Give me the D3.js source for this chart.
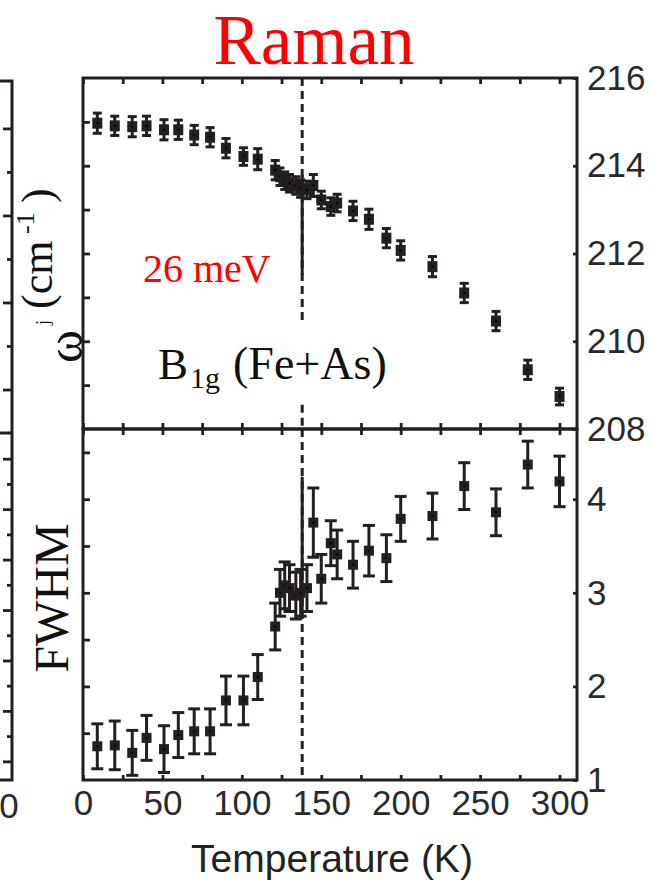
<!DOCTYPE html>
<html>
<head>
<meta charset="utf-8">
<script src="https://cdn.jsdelivr.net/npm/d3@7"></script>
<style>
  html, body { margin: 0; padding: 0; background: #fff; }
  svg { display: block; }
</style>
</head>
<body>
<svg id="chart" width="654" height="880"></svg>
<script>
// ---------------- data ----------------
const temps = [9, 20, 31, 40, 51, 60, 70, 80, 90, 101, 110, 121, 124, 127, 130, 134, 137, 141, 145, 150, 156, 160, 170, 180, 191, 200, 220, 240, 260, 280, 300];
const omega = [214.97, 214.91, 214.89, 214.91, 214.82, 214.82, 214.70, 214.65, 214.40, 214.21, 214.15, 213.90, 213.75, 213.66, 213.60, 213.55, 213.48, 213.45, 213.55, 213.22, 213.07, 213.15, 212.97, 212.78, 212.35, 212.07, 211.70, 211.10, 210.46, 209.35, 208.74];
const omegaErr = [0.23, 0.22, 0.23, 0.22, 0.23, 0.22, 0.22, 0.22, 0.22, 0.2, 0.24, 0.22, 0.2, 0.2, 0.2, 0.2, 0.2, 0.2, 0.25, 0.2, 0.2, 0.2, 0.22, 0.23, 0.22, 0.22, 0.23, 0.22, 0.22, 0.22, 0.19];
const fwhm = [1.36, 1.37, 1.29, 1.45, 1.33, 1.48, 1.52, 1.52, 1.85, 1.85, 2.10, 2.64, 3.00, 3.08, 3.05, 2.97, 3.00, 3.05, 3.75, 3.15, 3.53, 3.41, 3.30, 3.45, 3.37, 3.79, 3.82, 4.14, 3.86, 4.37, 4.19];
const fwhmErr = [0.24, 0.26, 0.24, 0.24, 0.25, 0.24, 0.24, 0.24, 0.26, 0.26, 0.24, 0.25, 0.25, 0.25, 0.25, 0.25, 0.25, 0.25, 0.37, 0.26, 0.24, 0.26, 0.25, 0.27, 0.25, 0.24, 0.245, 0.25, 0.25, 0.25, 0.27];

const xTicks = [0, 25, 50, 75, 100, 125, 150, 175, 200, 225, 250, 275, 300];
const xLabels = [0, 50, 100, 150, 200, 250, 300];
const omegaMinorTicks = [209, 210, 211, 212, 213, 214, 215];
const omegaLabels = [208, 210, 212, 214, 216];
const fwhmMinorTicks = [1.5, 2, 2.5, 3, 3.5, 4, 4.5];
const fwhmLabels = [1, 2, 3, 4];
const transitionT = 138;

// ---------------- layout ----------------
const ink = "#231f20";
const X0 = 83, X1 = 577, Ytop = 78, Ymid = 429, Ybot = 780;
const svg = d3.select("#chart");

const x = d3.scaleLinear().domain([0, 311]).range([X0, X1]);
const yTop = d3.scaleLinear().domain([208, 216]).range([Ymid, Ytop]);
const yBot = d3.scaleLinear().domain([1, 4.75]).range([Ybot, Ymid]);

function styleAxis(g) {
  g.select(".domain").remove();
  g.selectAll(".tick line").attr("stroke", ink).attr("stroke-width", 2.8);
  g.selectAll(".tick text").attr("fill", "#2a2a2a")
    .attr("font-family", "Liberation Sans, Arial, sans-serif").attr("font-size", 35);
}

// ---------------- partial neighbouring panel at far left ----------------
const leftTopScale = d3.scaleLinear().domain([0, 8.09]).range([433, 81]);
const leftBotScale = d3.scaleLinear().domain([0, 6.88]).range([780, 433]);
svg.append("g").attr("transform", "translate(12,0)")
  .call(d3.axisRight(leftTopScale).tickValues([1, 3, 5, 7]).tickSize(-9).tickFormat(""))
  .call(styleAxis);
svg.append("g").attr("transform", "translate(12,0)")
  .call(d3.axisRight(leftTopScale).tickValues([2, 4, 6]).tickSize(-5).tickFormat(""))
  .call(styleAxis);
svg.append("g").attr("transform", "translate(12,0)")
  .call(d3.axisRight(leftBotScale).tickValues([0.37, 1.37, 2.37, 3.37, 4.37, 5.37, 6.37]).tickSize(-9).tickFormat(""))
  .call(styleAxis);
svg.append("g").attr("transform", "translate(12,0)")
  .call(d3.axisRight(leftBotScale).tickValues([0.87, 1.87, 2.87, 3.87, 4.87, 5.87]).tickSize(-5).tickFormat(""))
  .call(styleAxis);
svg.append("path").attr("d", "M0,81H12V780H0M0,433H12")
  .attr("fill", "none").attr("stroke", ink).attr("stroke-width", 3);
svg.append("text").attr("x", 9).attr("y", 818).attr("text-anchor", "middle")
  .attr("font-family", "Liberation Sans, Arial, sans-serif").attr("font-size", 35)
  .attr("fill", "#2a2a2a").text("0");

// ---------------- axes ----------------
svg.append("g").attr("transform", `translate(0,${Ytop})`)
  .call(d3.axisTop(x).tickValues(xTicks).tickSize(-6).tickFormat("")).call(styleAxis);
svg.append("g").attr("transform", `translate(0,${Ymid})`)
  .call(d3.axisBottom(x).tickValues(xTicks).tickSize(-6).tickFormat("")).call(styleAxis);
svg.append("g").attr("transform", `translate(0,${Ymid})`)
  .call(d3.axisTop(x).tickValues(xTicks).tickSize(-6).tickFormat("")).call(styleAxis);
svg.append("g").attr("transform", `translate(0,${Ybot})`)
  .call(d3.axisBottom(x).tickValues(xTicks).tickSize(-5).tickPadding(10)
    .tickFormat(d => xLabels.includes(d) ? String(d) : "")).call(styleAxis);

svg.append("g").attr("transform", `translate(${X0},0)`)
  .call(d3.axisLeft(yTop).tickValues(omegaMinorTicks).tickSize(-7).tickFormat("")).call(styleAxis);
svg.append("g").attr("transform", `translate(${X0},0)`)
  .call(d3.axisLeft(yBot).tickValues(fwhmMinorTicks).tickSize(-7).tickFormat("")).call(styleAxis);
svg.append("g").attr("transform", `translate(${X1},0)`)
  .call(d3.axisRight(yTop).tickValues(omegaLabels).tickSize(-4).tickPadding(10)
    .tickFormat(d => String(d))).call(styleAxis);
svg.append("g").attr("transform", `translate(${X1},0)`)
  .call(d3.axisRight(yBot).tickValues(fwhmLabels).tickSize(-4).tickPadding(10)
    .tickFormat(d => String(d))).call(styleAxis);

// ---------------- transition line ----------------
const xt = x(transitionT);
function vline(y1, y2, dashed) {
  svg.append("line").attr("x1", xt).attr("x2", xt).attr("y1", y1).attr("y2", y2)
    .attr("stroke", ink).attr("stroke-width", 3)
    .attr("stroke-dasharray", dashed ? "8,5" : null);
}
vline(yTop(216), yTop(210.42), true);
vline(yTop(208.55), yTop(208), true);
vline(yTop(213.79), yTop(211.51), false);
vline(yBot(4.75), yBot(1), true);
vline(yBot(4.24), yBot(2.74), false);

// ---------------- frames ----------------
svg.append("rect").attr("x", X0).attr("y", Ytop).attr("width", X1 - X0).attr("height", Ymid - Ytop)
  .attr("fill", "none").attr("stroke", ink).attr("stroke-width", 3);
svg.append("rect").attr("x", X0).attr("y", Ymid).attr("width", X1 - X0).attr("height", Ybot - Ymid)
  .attr("fill", "none").attr("stroke", ink).attr("stroke-width", 3);

// ---------------- data marks ----------------
function drawSeries(vals, errs, yS, w, h, capW) {
  const g = svg.append("g");
  temps.forEach((t, i) => {
    const cx = x(t);
    const yHi = yS(vals[i] + errs[i]), yLo = yS(vals[i] - errs[i]);
    g.append("line").attr("x1", cx).attr("x2", cx).attr("y1", yHi).attr("y2", yLo)
      .attr("stroke", ink).attr("stroke-width", 3);
    g.append("line").attr("x1", cx - capW / 2).attr("x2", cx + capW / 2).attr("y1", yHi).attr("y2", yHi)
      .attr("stroke", ink).attr("stroke-width", 3);
    g.append("line").attr("x1", cx - capW / 2).attr("x2", cx + capW / 2).attr("y1", yLo).attr("y2", yLo)
      .attr("stroke", ink).attr("stroke-width", 3);
  });
  temps.forEach((t, i) => {
    const cx = x(t), cy = yS(vals[i]);
    g.append("rect").attr("x", cx - w / 2).attr("y", cy - h / 2).attr("width", w).attr("height", h)
      .attr("fill", ink);
    g.append("rect").attr("x", cx - 1).attr("y", cy - 1).attr("width", 2).attr("height", 2)
      .attr("fill", "#000");
  });
}
drawSeries(omega, omegaErr, yTop, 10, 11, 9);
drawSeries(fwhm, fwhmErr, yBot, 10, 10, 12);

// ---------------- texts ----------------
svg.append("text").attr("x", 314).attr("y", 64).attr("text-anchor", "middle")
  .attr("font-family", "Liberation Serif, Times New Roman, serif").attr("font-size", 71)
  .attr("fill", "#ff0000").text("Raman");

svg.append("text").attr("x", 143).attr("y", 282)
  .attr("font-family", "Liberation Serif, Times New Roman, serif").attr("font-size", 40)
  .attr("fill", "#ff0000").text("26 meV");

const b = svg.append("text").attr("font-family", "Liberation Serif, Times New Roman, serif").attr("fill", "#111");
b.append("tspan").attr("x", 158).attr("y", 379).attr("font-size", 45).text("B");
b.append("tspan").attr("x", 190).attr("y", 388).attr("font-size", 30).text("1g");
b.append("tspan").attr("x", 233).attr("y", 379).attr("font-size", 46).text("(Fe+As)");

const yl = svg.append("text").attr("transform", "rotate(-90)")
  .attr("font-family", "Liberation Serif, Times New Roman, serif").attr("fill", "#111");
yl.append("tspan").attr("x", -363).attr("y", 82).attr("font-size", 50).text("ω");
yl.append("tspan").attr("x", -325).attr("y", 49).attr("font-size", 18).text("j");
yl.append("tspan").attr("x", -309).attr("y", 52).attr("font-size", 44).text("(cm");
yl.append("tspan").attr("x", -234).attr("y", 34).attr("font-size", 26).text("-1");
yl.append("tspan").attr("x", -203).attr("y", 52).attr("font-size", 44).text(")");

svg.append("text").attr("transform", "rotate(-90)").attr("x", -598).attr("y", 68)
  .attr("text-anchor", "middle")
  .attr("font-family", "Liberation Serif, Times New Roman, serif").attr("font-size", 48)
  .attr("fill", "#111").text("FWHM");

svg.append("text").attr("x", 332).attr("y", 872).attr("text-anchor", "middle")
  .attr("font-family", "Liberation Sans, Arial, sans-serif").attr("font-size", 39)
  .attr("fill", "#222").text("Temperature (K)");
</script>
</body>
</html>
